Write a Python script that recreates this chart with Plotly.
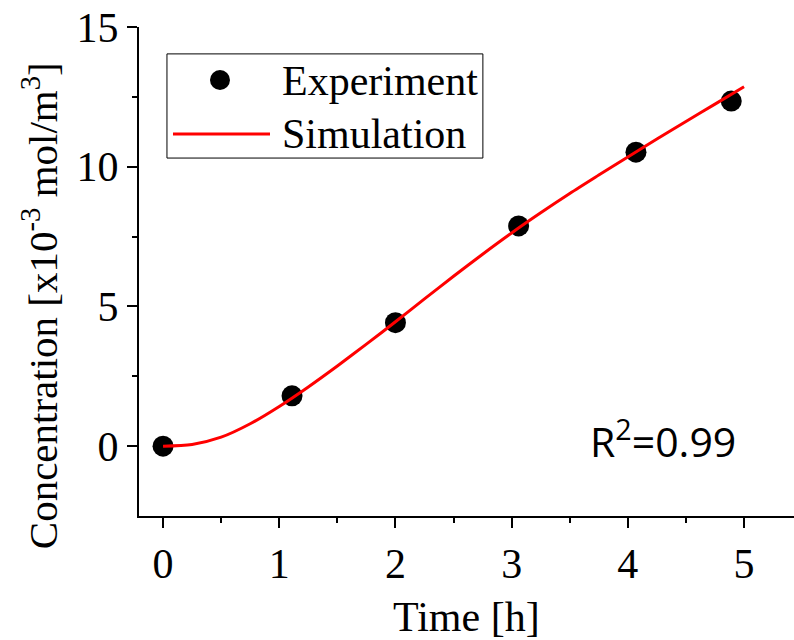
import plotly.graph_objects as go

# Experimental data
exp_time = [0.0, 1.11, 2.0, 3.06, 4.07, 4.89]
exp_conc = [0.0, 1.8, 4.42, 7.88, 10.52, 12.35]

# Simulation curve
sim_time = [0.0, 0.25, 0.5, 0.75, 1.0, 1.25, 1.5, 1.75, 2.0, 2.25, 2.5,
            2.75, 3.0, 3.25, 3.5, 3.75, 4.0, 4.25, 4.5, 4.75, 5.0]
sim_conc = [0.0, 0.06, 0.32, 0.8, 1.42, 2.12, 2.87, 3.65, 4.45, 5.27, 6.08,
            6.87, 7.63, 8.35, 9.04, 9.70, 10.35, 10.99, 11.62, 12.24, 12.86]

legend_labels = ["Experiment", "Simulation"]

x_range = [-0.207, 5.43]
y_range = [-2.5, 15]

SERIF = "Liberation Serif, Times New Roman, serif"

fig = go.Figure()
fig.add_trace(go.Scatter(
    x=exp_time, y=exp_conc, mode="markers", name=legend_labels[0],
    marker=dict(color="black", size=21, line=dict(width=0)),
))
fig.add_trace(go.Scatter(
    x=sim_time, y=sim_conc, mode="lines", name=legend_labels[1],
    line=dict(color="red", width=3, shape="spline", smoothing=0.8),
))

axis_common = dict(
    showgrid=False, zeroline=False, linecolor="black", linewidth=2,
    tickcolor="black", tickwidth=2, ticklen=10,
    tickfont=dict(family=SERIF, size=42, color="black"),
)

# Legend drawn as a framed box (paper coordinates)
shapes = [
    dict(type="rect", xref="paper", yref="paper", x0=0.0427, x1=0.525,
         y0=0.732, y1=0.945, line=dict(color="black", width=1),
         fillcolor="white", layer="above"),
    dict(type="circle", xref="paper", yref="paper", x0=0.1084, x1=0.1389,
         y0=0.8712, y1=0.912, line=dict(width=0), fillcolor="black",
         layer="above"),
    dict(type="line", xref="paper", yref="paper", x0=0.0519, x1=0.2,
         y0=0.781, y1=0.781, line=dict(color="red", width=3), layer="above"),
]

fig.update_layout(
    width=794, height=640,
    margin=dict(l=139, r=0, t=27, b=124),
    paper_bgcolor="white", plot_bgcolor="white",
    showlegend=False,
    shapes=shapes,
    xaxis=dict(
        range=x_range, tickvals=[0, 1, 2, 3, 4, 5], ticks="outside",
        showline=True,
        minor=dict(tickvals=[0.5, 1.5, 2.5, 3.5, 4.5], ticks="outside",
                   ticklen=5, tickwidth=2, tickcolor="black"),
        **axis_common,
    ),
    yaxis=dict(
        range=y_range, tickvals=[0, 5, 10, 15], ticks="outside",
        showline=True,
        minor=dict(tickvals=[2.5, 7.5, 12.5], ticks="outside",
                   ticklen=5, tickwidth=2, tickcolor="black"),
        **axis_common,
    ),
    xaxis2=dict(
        overlaying="x", side="top", range=x_range, showticklabels=False,
        tickvals=[0, 1, 2, 3, 4, 5], ticks="inside", showline=True,
        minor=dict(tickvals=[0.5, 1.5, 2.5, 3.5, 4.5], ticks="inside",
                   ticklen=5, tickwidth=2, tickcolor="black"),
        **axis_common,
    ),
    yaxis2=dict(
        overlaying="y", side="right", range=y_range, showticklabels=False,
        tickvals=[0, 5, 10, 15], ticks="inside", showline=True,
        minor=dict(tickvals=[2.5, 7.5, 12.5], ticks="inside",
                   ticklen=5, tickwidth=2, tickcolor="black"),
        **axis_common,
    ),
    annotations=[
        dict(text=legend_labels[0], xref="paper", yref="paper", x=0.2153,
             y=0.89, xanchor="left", yanchor="middle", showarrow=False,
             font=dict(family=SERIF, size=42, color="black")),
        dict(text=legend_labels[1], xref="paper", yref="paper", x=0.2153,
             y=0.781, xanchor="left", yanchor="middle", showarrow=False,
             font=dict(family=SERIF, size=42, color="black")),
        dict(text="Time [h]", xref="paper", yref="paper", x=0.5, y=-0.207,
             yanchor="middle", xanchor="center", showarrow=False,
             font=dict(family=SERIF, size=42, color="black")),
        dict(text="Concentration [x10<sup>-3</sup> mol/m<sup>3</sup>]",
             xref="paper", yref="paper", x=-0.152, y=0.43, textangle=-90,
             xanchor="center", yanchor="middle", showarrow=False,
             font=dict(family=SERIF, size=41, color="black")),
        dict(text="R<sup>2</sup>=0.99", xref="paper", yref="paper",
             x=0.8, y=0.157, xanchor="center", yanchor="middle",
             showarrow=False,
             font=dict(family="Open Sans, sans-serif", size=41, color="black")),
    ],
)

fig.write_html("out.html")
